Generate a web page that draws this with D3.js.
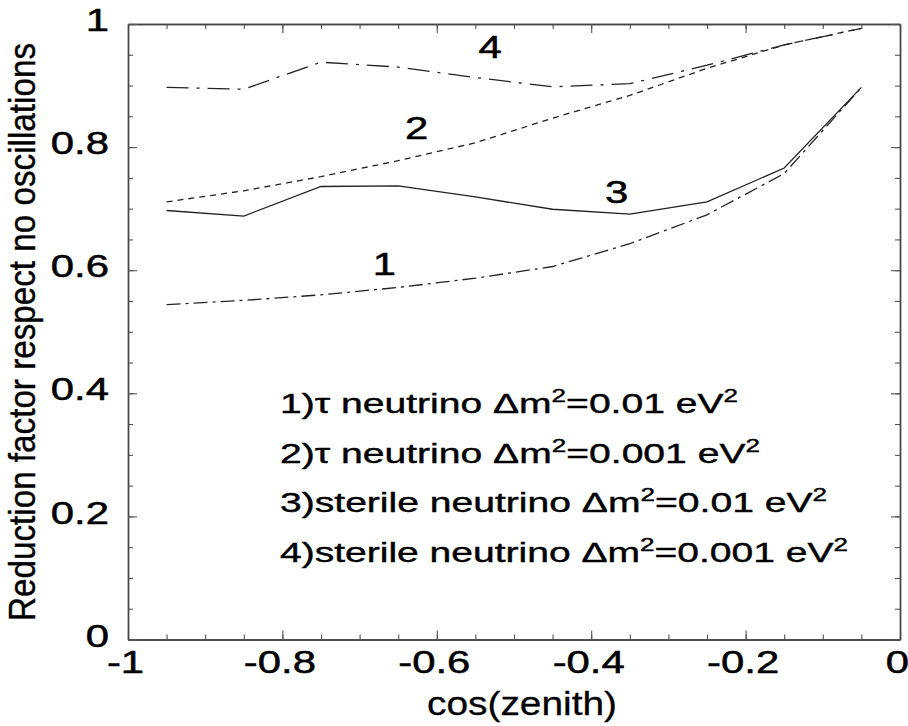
<!DOCTYPE html>
<html>
<head>
<meta charset="utf-8">
<script src="https://cdn.jsdelivr.net/npm/d3@7"></script>
<style>
  body { margin: 0; background: #fff; }
  svg { display: block; font-family: "Liberation Sans", Arial, Helvetica, sans-serif; }
</style>
</head>
<body>
<svg id="chart"></svg>
<script>
// ---- data
const cosZenith = [-0.95, -0.85, -0.75, -0.65, -0.55, -0.45, -0.35, -0.25, -0.15, -0.05];
const tauDm01      = [0.544, 0.551, 0.560, 0.572, 0.587, 0.606, 0.643, 0.690, 0.757, 0.897];
const tauDm001     = [0.711, 0.729, 0.752, 0.778, 0.807, 0.847, 0.884, 0.928, 0.966, 0.993];
const sterileDm01  = [0.697, 0.688, 0.736, 0.737, 0.719, 0.699, 0.691, 0.711, 0.766, 0.897];
const sterileDm001 = [0.897, 0.894, 0.938, 0.930, 0.913, 0.898, 0.903, 0.933, 0.966, 0.993];

const xTicks = [-1, -0.8, -0.6, -0.4, -0.2, 0];
const xTickLabels = ["-1", "-0.8", "-0.6", "-0.4", "-0.2", "0"];
const yTicks = [0, 0.2, 0.4, 0.6, 0.8, 1];
const yTickLabels = ["0", "0.2", "0.4", "0.6", "0.8", "1"];

const curveTags = ["1", "2", "3", "4"];
const curveTagX = [-0.668, -0.626, -0.367, -0.531];
const curveTagY = [0.593, 0.813, 0.709, 0.945];

const legendNames = ["1)τ neutrino", "2)τ neutrino", "3)sterile neutrino", "4)sterile neutrino"];
const legendDm = ["0.01", "0.001", "0.01", "0.001"];

// ---- layout
const width = 908, height = 726;
const margin = { top: 24, right: 8, bottom: 86.5, left: 128 };
const w = width - margin.left - margin.right;
const h = height - margin.top - margin.bottom;
const stretch = 1.35;

const svg = d3.select("#chart").attr("width", width).attr("height", height);
const g = svg.append("g").attr("transform", `translate(${margin.left},${margin.top})`);

const x = d3.scaleLinear().domain([-1, 0]).range([0, w]);
const y = d3.scaleLinear().domain([0, 1]).range([h, 0]);

const minorX = d3.range(-1, 0.0001, 0.05);
const minorY = d3.range(0, 1.0001, 0.05);

// ---- frame and ticks (all pointing inward)
function drawAxis(axis, transform) {
   const a = g.append("g").attr("transform", transform).call(axis);
   a.select(".domain").attr("stroke", "#444").attr("stroke-width", 1.4);
   a.selectAll(".tick line").attr("stroke", "#555").attr("stroke-width", 1.1);
   return a;
}

drawAxis(d3.axisBottom(x).tickValues(minorX).tickSize(-5).tickSizeOuter(0).tickFormat(""), `translate(0,${h})`);
drawAxis(d3.axisTop(x).tickValues(minorX).tickSize(-5).tickSizeOuter(0).tickFormat(""), "translate(0,0)");
drawAxis(d3.axisLeft(y).tickValues(minorY).tickSize(-5).tickSizeOuter(0).tickFormat(""), "translate(0,0)");
drawAxis(d3.axisRight(y).tickValues(minorY).tickSize(-5).tickSizeOuter(0).tickFormat(""), `translate(${w},0)`);

const xAxis = drawAxis(
   d3.axisBottom(x).tickValues(xTicks).tickSize(-9).tickSizeOuter(0)
      .tickFormat((d, i) => xTickLabels[i]),
   `translate(0,${h})`
);
drawAxis(d3.axisTop(x).tickValues(xTicks).tickSize(-9).tickSizeOuter(0).tickFormat(""), "translate(0,0)");
const yAxis = drawAxis(
   d3.axisLeft(y).tickValues(yTicks).tickSize(-9).tickSizeOuter(0)
      .tickFormat((d, i) => yTickLabels[i]),
   "translate(0,0)"
);
drawAxis(d3.axisRight(y).tickValues(yTicks).tickSize(-9).tickSizeOuter(0).tickFormat(""), `translate(${w},0)`);

xAxis.selectAll("text")
   .attr("font-family", null)
   .attr("font-size", 31)
   .attr("fill", "#000")
   .attr("stroke", "#000")
   .attr("stroke-width", 0.5)
   .attr("x", -3 / stretch)
   .attr("y", 33.5)
   .attr("dy", 0)
   .attr("transform", `scale(${stretch},1)`);

yAxis.selectAll("text")
   .attr("font-family", null)
   .attr("font-size", 31)
   .attr("fill", "#000")
   .attr("stroke", "#000")
   .attr("stroke-width", 0.5)
   .attr("x", -19 / stretch)
   .attr("y", -4.5)
   .attr("dy", "0.36em")
   .attr("transform", `scale(${stretch},1)`);

// ---- curves
const line = d3.line()
   .x((d, i) => x(cosZenith[i]))
   .y(d => y(d));

const curves = [
   { values: tauDm01, dash: "14,5,3,5" },
   { values: tauDm001, dash: "6,5" },
   { values: sterileDm01, dash: null },
   { values: sterileDm001, dash: "22,8,3,8" }
];

g.selectAll(".curve")
   .data(curves)
   .join("path")
   .attr("class", "curve")
   .attr("d", d => line(d.values))
   .attr("fill", "none")
   .attr("stroke", "#222")
   .attr("stroke-width", 1.3)
   .attr("stroke-dasharray", d => d.dash);

// ---- curve numbers
g.selectAll(".tag")
   .data(curveTags)
   .join("text")
   .attr("class", "tag")
   .attr("transform", (d, i) => `translate(${x(curveTagX[i])},${y(curveTagY[i])}) scale(${stretch},1)`)
   .attr("text-anchor", "middle")
   .attr("font-size", 31)
   .attr("stroke", "#000")
   .attr("stroke-width", 0.5)
   .text(d => d);

// ---- legend text
const legendBase = [413, 462.5, 512, 561.5];
const legendWidth = [458, 480, 547, 568];

legendNames.forEach((name, i) => {
   const t = svg.append("text")
      .attr("x", 280)
      .attr("y", legendBase[i])
      .attr("font-size", 27)
      .attr("stroke", "#000")
      .attr("stroke-width", 0.4)
      .attr("textLength", legendWidth[i])
      .attr("lengthAdjust", "spacingAndGlyphs");
   t.append("tspan").text(`${name} Δm`);
   t.append("tspan").attr("font-size", 18).attr("dy", -11).text("2");
   t.append("tspan").attr("dy", 11).text(`=${legendDm[i]} eV`);
   t.append("tspan").attr("font-size", 18).attr("dy", -11).text("2");
});

// ---- axis titles
svg.append("text")
   .attr("x", 522)
   .attr("y", 715)
   .attr("text-anchor", "middle")
   .attr("font-size", 33)
   .attr("stroke", "#000")
   .attr("stroke-width", 0.3)
   .attr("textLength", 190)
   .attr("lengthAdjust", "spacingAndGlyphs")
   .text("cos(zenith)");

svg.append("text")
   .attr("transform", `translate(35,332) scale(1.33,1) rotate(-90)`)
   .attr("text-anchor", "middle")
   .attr("font-size", 28)
   .attr("stroke", "#000")
   .attr("stroke-width", 0.3)
   .attr("textLength", 578)
   .attr("lengthAdjust", "spacingAndGlyphs")
   .text("Reduction factor respect no oscillations");
</script>
</body>
</html>
